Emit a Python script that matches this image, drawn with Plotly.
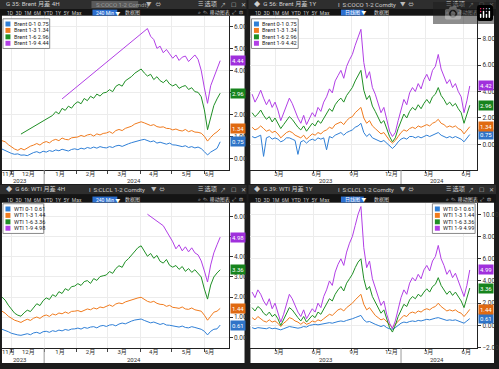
import plotly.graph_objects as go
import pandas as pd

W, H = 499, 369
FONT = "Roboto, Noto Sans CJK SC, sans-serif"

# ---------------- data ----------------
h4_start = "2023-11-22"   # 4H panels, one reading every 3 days
d1_start = "2023-01-02"   # 1Y panels, one reading per week

brent_names = ["Brent 0-1", "Brent 1-3", "Brent 1-6", "Brent 1-9"]
wti_names = ["WTI 0-1", "WTI 1-3", "WTI 1-6", "WTI 1-9"]

brent_4h_01 = [0.42, 0.35, 0.30, 0.22, 0.18, 0.20, 0.14, 0.15, 0.12, 0.20, 0.26, 0.30, 0.24, 0.32,
               0.28, 0.35, 0.31, 0.38, 0.34, 0.41, 0.37, 0.33, 0.40, 0.43, 0.39, 0.46, 0.42, 0.49,
               0.45, 0.51, 0.46, 0.53, 0.49, 0.47, 0.53, 0.49, 0.56, 0.59, 0.54, 0.61, 0.66, 0.71,
               0.76, 0.79, 0.83, 0.86, 0.79, 0.75, 0.79, 0.69, 0.73, 0.67, 0.64, 0.69, 0.61, 0.60,
               0.57, 0.53, 0.57, 0.49, 0.53, 0.47, 0.51, 0.44, 0.30, 0.15, 0.28, 0.38, 0.45, 0.75]
brent_4h_13 = [0.80, 0.75, 0.62, 0.50, 0.42, 0.36, 0.45, 0.38, 0.48, 0.55, 0.60, 0.67, 0.60, 0.71,
               0.76, 0.70, 0.81, 0.86, 0.80, 0.92, 0.86, 0.84, 0.93, 0.96, 0.97, 1.04, 0.99, 1.06,
               1.09, 1.01, 1.11, 1.06, 1.13, 1.15, 1.21, 1.13, 1.26, 1.31, 1.26, 1.36, 1.41, 1.46,
               1.56, 1.61, 1.66, 1.61, 1.54, 1.49, 1.53, 1.44, 1.41, 1.43, 1.36, 1.35, 1.29, 1.33,
               1.27, 1.24, 1.31, 1.21, 1.26, 1.19, 1.18, 1.14, 1.00, 0.78, 0.95, 1.10, 1.20, 1.34]
brent_4h_16 = [None, None, None, None, None, None, 1.10, None, None, None, None, None, None, None,
               1.75, 1.85, 1.95, 2.12, 2.02, 2.27, 2.18, 2.37, 2.28, 2.47, 2.57, 2.48, 2.72, 2.62,
               2.82, 2.73, 2.92, 2.83, 2.97, 3.00, 3.12, 3.03, 3.27, 3.36, 3.28, 3.52, 3.61, 3.72,
               3.87, 3.96, 4.06, 3.88, 3.74, 3.82, 3.58, 3.71, 3.53, 3.44, 3.57, 3.38, 3.29, 3.37,
               3.18, 3.26, 3.31, 3.13, 3.21, 3.03, 3.00, 2.80, 2.20, 1.30, 1.80, 2.40, 2.70, 2.96]
brent_4h_19 = [None, None, None, None, None, None, None, None, None, None, None, None, None, None,
               None, None, None, None, None, 2.70, None, None, None, None, None, None, None, None,
               None, None, None, None, None, None, None, None, None, None, None, None, None, None,
               None, None, None, None, 5.90, 5.55, 5.40, 5.00, 5.10, 4.80, 4.95, 4.75, 4.55, 4.70,
               4.45, 4.60, 4.65, 4.40, 4.55, 4.70, 4.50, 4.00, 3.20, 2.50, 3.30, 3.70, 4.00, 4.44]

brent_1y_01 = [0.6, 0.5, 0.6, 0.7, -0.9, 0.5, 0.6, 0.4, 0.5, 0.4, 0.2, 0.3, 0.5, 0.5, 0.4, 0.3,
               -0.75, 0.2, 0.3, 0.1, 0.3, 0.4, 0.3, 0.5, 0.4, 0.5, -0.4, 0.6, 0.5, 0.7, 0.8, 0.9,
               0.7, 0.9, 1.0, 1.1, 1.3, 1.4, 1.6, 0.9, 0.6, 0.8, 0.5, 0.4, 0.3, 0.2, 0.3, 0.1,
               -0.1, -0.3, -0.1, 0.2, 0.4, 0.5, 0.4, 0.6, 0.6, 0.5, 0.6, 0.5, 0.6, 0.7, 0.6, 0.7,
               0.8, 0.9, 0.7, 0.6, 0.5, 0.6, 0.5, 0.6, 0.5, 0.4, 0.2, 0.5, 0.75]
brent_1y_13 = [1.3, 1.1, 1.2, 1.4, 1.2, 1.0, 1.1, 0.9, 1.0, 0.8, 0.5, 0.7, 0.9, 1.0, 0.9, 0.7,
               0.6, 0.5, 0.7, 0.4, 0.6, 0.8, 0.7, 0.9, 0.8, 1.0, 1.1, 1.3, 1.2, 1.5, 1.6, 1.7,
               1.5, 1.8, 2.0, 2.1, 2.4, 2.6, 2.8, 2.0, 1.6, 1.8, 1.4, 1.2, 1.0, 0.8, 0.9, 0.6,
               0.3, 0.1, 0.3, 0.6, 0.9, 1.1, 1.0, 1.2, 1.3, 1.2, 1.4, 1.3, 1.4, 1.5, 1.4, 1.6,
               1.7, 1.9, 1.6, 1.5, 1.3, 1.4, 1.3, 1.4, 1.2, 1.1, 0.8, 1.1, 1.34]
brent_1y_16 = [2.4, 2.1, 2.3, 2.6, 2.2, 1.9, 2.1, 1.7, 2.0, 1.6, 1.2, 1.5, 1.8, 2.1, 1.9, 1.6,
               1.3, 1.1, 1.4, 1.0, 1.3, 1.6, 1.4, 1.8, 1.6, 2.0, 2.3, 2.7, 2.5, 3.0, 3.3, 3.5,
               3.2, 3.7, 4.0, 4.3, 4.8, 5.2, 5.6, 4.1, 3.4, 3.7, 2.9, 2.5, 2.0, 1.6, 1.8, 1.2,
               0.6, 0.2, 0.5, 1.2, 1.8, 2.3, 2.0, 2.5, 2.8, 2.6, 3.0, 2.7, 3.1, 3.4, 3.1, 3.6,
               3.8, 4.3, 3.7, 3.4, 3.0, 3.2, 2.9, 3.1, 2.7, 2.4, 1.6, 2.3, 2.96]
brent_1y_19 = [3.8, 3.2, 3.6, 4.1, 3.5, 3.0, 3.4, 2.8, 3.2, 2.6, 1.8, 2.4, 2.9, 3.5, 3.1, 2.5,
               2.0, 1.6, 2.2, 1.5, 1.9, 2.4, 2.1, 2.8, 2.5, 3.2, 3.6, 4.2, 3.9, 4.8, 5.2, 5.6,
               5.0, 5.9, 6.4, 6.8, 7.5, 8.1, 8.7, 6.2, 5.0, 5.5, 4.3, 3.8, 3.0, 2.4, 2.8, 1.9,
               1.0, 0.6, 0.9, 1.8, 2.6, 3.4, 3.0, 3.9, 4.3, 4.0, 4.6, 4.2, 4.9, 5.3, 4.8, 5.6,
               5.9, 6.8, 5.7, 5.2, 4.6, 4.9, 4.3, 4.6, 4.0, 3.6, 2.4, 3.3, 4.42]

wti_4h_01 = [0.40, 0.35, 0.28, 0.20, 0.15, 0.12, 0.10, 0.14, 0.18, 0.13, 0.22, 0.25, 0.19, 0.28,
             0.30, 0.25, 0.33, 0.29, 0.36, 0.32, 0.39, 0.35, 0.41, 0.42, 0.46, 0.41, 0.49, 0.45,
             0.51, 0.53, 0.47, 0.56, 0.59, 0.54, 0.61, 0.63, 0.57, 0.66, 0.71, 0.67, 0.76, 0.81,
             0.86, 0.89, 0.91, 0.84, 0.77, 0.72, 0.76, 0.69, 0.64, 0.69, 0.61, 0.60, 0.57, 0.54,
             0.51, 0.56, 0.49, 0.47, 0.53, 0.49, 0.45, 0.40, 0.30, 0.12, 0.30, 0.40, 0.42, 0.61]
wti_4h_13 = [1.30, 1.20, 1.05, 0.95, 0.85, 0.80, 0.74, 0.83, 0.90, 0.84, 0.95, 1.01, 0.94, 1.06,
             1.11, 1.04, 1.16, 1.11, 1.21, 1.17, 1.26, 1.19, 1.29, 1.30, 1.33, 1.27, 1.36, 1.41,
             1.37, 1.46, 1.41, 1.51, 1.47, 1.56, 1.61, 1.54, 1.66, 1.71, 1.67, 1.76, 1.81, 1.86,
             1.93, 1.96, 1.99, 1.89, 1.79, 1.74, 1.79, 1.69, 1.64, 1.63, 1.54, 1.59, 1.49, 1.47,
             1.44, 1.51, 1.41, 1.39, 1.46, 1.37, 1.35, 1.30, 1.10, 0.85, 1.05, 1.25, 1.30, 1.44]
wti_4h_16 = [2.00, 1.85, 1.60, 1.40, 1.20, 1.10, 1.05, 1.22, 1.35, 1.28, 1.50, 1.67, 1.58, 1.82,
             1.96, 1.88, 2.12, 2.03, 2.27, 2.18, 2.42, 2.33, 2.52, 2.55, 2.67, 2.58, 2.77, 2.82,
             2.68, 2.92, 2.83, 3.02, 3.06, 3.10, 3.27, 3.18, 3.42, 3.56, 3.48, 3.77, 3.91, 4.11,
             4.31, 4.46, 4.55, 4.28, 4.03, 4.17, 3.93, 4.07, 3.78, 3.69, 3.87, 3.58, 3.49, 3.57,
             3.38, 3.52, 3.28, 3.42, 3.23, 3.36, 3.20, 3.00, 2.40, 1.90, 2.60, 3.00, 3.20, 3.36]
wti_4h_19 = [None, None, None, None, None, None, None, None, None, None, None, None, None, None,
             None, None, None, None, None, None, None, None, None, None, None, None, None, None,
             None, None, None, None, None, None, None, None, None, None, None, None, None, None,
             None, None, None, None, 6.12, None, None, None, None, 5.55, None, None, 4.75, 4.40,
             4.60, 4.30, 4.50, 4.25, 4.45, 4.20, 4.10, 3.80, 3.30, 2.75, 3.60, 4.20, 4.60, 4.98]

wti_1y_01 = [-0.2, -0.3, -0.2, -0.25, -0.3, -0.3, -0.2, -0.3, -0.25, -0.3, -0.4, -0.3, -0.2, -0.1,
             -0.15, -0.2, -0.25, -0.2, -0.1, -0.15, 0.0, 0.05, 0.1, 0.05, 0.1, 0.15, 0.2, 0.25,
             0.2, 0.3, 0.35, 0.4, 0.35, 0.45, 0.5, 0.6, 0.7, 0.8, 0.9, 0.5, 0.3, 0.35, 0.2, 0.1,
             0.0, -0.1, 0.0, -0.2, -0.3, -0.35, -0.2, 0.0, 0.2, 0.3, 0.25, 0.35, 0.4, 0.35, 0.45,
             0.4, 0.5, 0.55, 0.5, 0.6, 0.65, 0.7, 0.6, 0.5, 0.45, 0.5, 0.45, 0.5, 0.4, 0.35, 0.2,
             0.4, 0.61]
wti_1y_13 = [0.7, 0.5, 0.8, 0.6, 0.4, 0.3, 0.5, 0.3, 0.4, 0.2, -0.1, 0.2, 0.4, 0.7, 0.6, 0.4,
             0.3, 0.1, 0.3, 0.1, 0.2, 0.4, 0.3, 0.5, 0.4, 0.6, 0.8, 1.0, 0.9, 1.2, 1.4, 1.5,
             1.3, 1.6, 1.8, 2.0, 2.3, 2.6, 2.8, 1.9, 1.4, 1.6, 1.2, 0.9, 0.7, 0.5, 0.6, 0.3,
             0.0, -0.2, 0.1, 0.4, 0.7, 0.9, 0.8, 1.1, 1.2, 1.1, 1.3, 1.2, 1.4, 1.5, 1.4, 1.6,
             1.7, 2.0, 1.7, 1.5, 1.3, 1.4, 1.3, 1.4, 1.2, 1.1, 0.8, 1.1, 1.44]
wti_1y_16 = [1.6, 1.3, 1.7, 1.5, 1.1, 0.9, 1.2, 0.8, 1.0, 0.6, 0.0, 0.5, 1.0, 1.6, 1.4, 1.0,
             0.7, 0.4, 0.8, 0.3, 0.6, 0.9, 0.7, 1.2, 1.0, 1.5, 1.9, 2.4, 2.2, 2.8, 3.2, 3.5,
             3.1, 3.8, 4.2, 4.6, 5.2, 5.7, 6.0, 4.2, 3.2, 3.5, 2.6, 2.1, 1.6, 1.1, 1.4, 0.6,
             -0.2, -0.6, 0.0, 0.8, 1.4, 1.9, 1.7, 2.3, 2.6, 2.4, 2.8, 2.6, 3.0, 3.3, 3.0, 3.5,
             3.7, 4.3, 3.6, 3.2, 2.8, 3.1, 2.7, 3.0, 2.6, 2.2, 1.6, 2.4, 3.36]
wti_1y_19 = [3.0, 2.5, 3.2, 2.8, 2.2, 1.8, 2.4, 1.5, 2.0, 1.2, 0.3, 1.0, 1.8, 2.8, 2.4, 1.8,
             1.2, 0.8, 1.4, 0.6, 1.0, 1.5, 1.2, 2.0, 1.6, 2.6, 3.2, 4.0, 3.6, 4.8, 5.5, 6.0,
             5.4, 6.6, 7.4, 8.0, 9.0, 10.0, 10.7, 7.0, 5.2, 5.8, 4.2, 3.4, 2.5, 1.8, 2.2, 1.0,
             0.2, -0.3, 0.4, 1.5, 2.5, 3.2, 2.8, 3.8, 4.3, 4.0, 4.6, 4.2, 5.0, 5.4, 4.9, 5.8,
             6.2, 7.2, 6.0, 5.4, 4.6, 5.0, 4.3, 4.7, 4.0, 3.4, 2.6, 3.6, 4.99]

# tick labels
h4_month_labels = ["11月", "12月", "1月", "2月", "3月", "4月", "5月", "6月"]
h4_month_pos = ["2023-11-28", "2023-12-17", "2024-01-16", "2024-02-14", "2024-03-15",
                "2024-04-14", "2024-05-15", "2024-06-06"]
d1_month_labels = ["3月", "6月", "9月", "12月", "3月", "6月"]
d1_month_pos = ["2023-03-01", "2023-06-01", "2023-09-01", "2023-12-01", "2024-03-01", "2024-06-01"]
year_labels = ["2023", "2024"]

colors = ["#2f7fd6", "#f07b1e", "#1f8f25", "#b23fe6"]
tag_colors = ["#2f74c8", "#e06a12", "#17841d", "#a030dc"]

# ---------------- helpers ----------------
def X(px):
    return px / W


def Y(py):
    return 1 - py / H


shapes, annotations = [], []


def rect(x0, y0, x1, y1, color, layer="below", line=None):
    shapes.append(dict(type="rect", xref="paper", yref="paper", x0=X(x0), x1=X(x1),
                       y0=Y(y1), y1=Y(y0), fillcolor=color,
                       line=line if line else dict(width=0), layer=layer))


def txt(x, y, s, size=6, color="#cfcfcf", anchor="left"):
    annotations.append(dict(xref="paper", yref="paper", x=X(x), y=Y(y), text=s, showarrow=False,
                            xanchor=anchor, yanchor="middle",
                            font=dict(size=size, color=color, family=FONT)))


fig = go.Figure()

# background blocks
for (x0, x1) in [(0, 248), (250, 499)]:
    for (t, tb, bt, wb) in [(0, 9, 16, 186), (187, 196.5, 205, 367)]:
        rect(x0, t, x1, tb, "#2e2e2e")
        rect(x0, tb, x1, bt, "#141414")
        rect(x0 + 2, bt, x1 - 2, wb, "#ffffff")

panels = [
    dict(n="", start=h4_start, freq="3D", series=[brent_4h_01, brent_4h_13, brent_4h_16, brent_4h_19],
         names=brent_names, box=(2, 16, 230, 172), yr=[-0.54, 6.48], dt=1, kind="4h",
         xr=["2023-11-22", "2024-06-24"], title="G 35: Brent 月差 4H", tk="S:COCO 1-2 Comdty",
         leg=(3, 19, 50, 49), yrow=182.5, ysep=(172, 186)),
    dict(n="2", start=d1_start, freq="7D", series=[brent_1y_01, brent_1y_13, brent_1y_16, brent_1y_19],
         names=brent_names, box=(252, 16, 480, 172), yr=[-1.94, 9.72], dt=2, kind="1y",
         xr=["2022-12-29", "2024-07-05"], title="◆  G 56: Brent 月差 1Y", tk="I  S:COCO 1-2 Comdty",
         leg=(253, 19, 300, 49), yrow=182.5, ysep=(172, 186)),
    dict(n="3", start=h4_start, freq="3D", series=[wti_4h_01, wti_4h_13, wti_4h_16, wti_4h_19],
         names=wti_names, box=(2, 205, 230, 352), yr=[-0.54, 6.69], dt=1, kind="4h",
         xr=["2023-11-22", "2024-06-24"], title="◆  G 66: WTI 月差 4H", tk="I  S:CLCL 1-2 Comdty",
         leg=(3, 206, 44, 236), yrow=363.2, ysep=(352, 367)),
    dict(n="4", start=d1_start, freq="7D", series=[wti_1y_01, wti_1y_13, wti_1y_16, wti_1y_19],
         names=wti_names, box=(252, 205, 480, 352), yr=[-2.05, 11.04], dt=2, kind="1y",
         xr=["2022-12-29", "2024-07-05"], title="◆  G 39: WTI 月差 1Y", tk="I  S:CLCL 1-2 Comdty",
         leg=(435, 206, 478, 236), yrow=363.2, ysep=(352, 367)),
]

for p in panels:
    n = p["n"]
    xid, yid = "x" + n, "y" + n
    l, t, r, b = p["box"]
    for vals, name, c in zip(p["series"], p["names"], colors):
        d = pd.date_range(p["start"], periods=len(vals), freq=p["freq"])
        fig.add_trace(go.Scatter(x=d, y=vals, mode="lines", line=dict(color=c, width=1),
                                 connectgaps=True, showlegend=False, hoverinfo="skip",
                                 xaxis=xid, yaxis=yid))
    xa = dict(domain=[X(l), X(r)], type="date", range=p["xr"], anchor=yid,
              showline=True, linecolor="#222", linewidth=1, ticklabeloverflow="allow",
              tickfont=dict(size=6, color="#333", family=FONT), fixedrange=True)
    if p["kind"] == "4h":
        xa.update(tickvals=h4_month_pos, ticktext=h4_month_labels, ticks="", showgrid=False,
                  ticklabelstandoff=-2,
                  minor=dict(dtick="M1", tick0="2023-11-01", ticks="outside", ticklen=3,
                             tickcolor="#444", showgrid=True, gridcolor="#ececec"))
        year_pos = ["2023-12-09", "2024-03-26"]
    else:
        xa.update(tickvals=d1_month_pos, ticktext=d1_month_labels, ticks="outside", ticklen=2,
                  tickcolor="#444", showgrid=True, gridcolor="#ececec", ticklabelshift=3,
                  ticklabelstandoff=-4)
        year_pos = ["2023-07-01", "2024-03-28"]
    ya = dict(domain=[Y(b), Y(t)], range=p["yr"], anchor=xid, side="right", showline=True,
              linecolor="#222", linewidth=1, ticks="outside", ticklen=3, tickcolor="#333",
              tickformat=".2f", dtick=p["dt"], tick0=0, showgrid=True, gridcolor="#ececec",
              zeroline=False, tickfont=dict(size=6.5, color="#333", family=FONT), fixedrange=True)
    fig.update_layout(**{"xaxis" + n: xa, "yaxis" + n: ya})

    # year row
    for yl, yp in zip(year_labels, year_pos):
        annotations.append(dict(xref=xid, yref="paper", x=yp, y=Y(p["yrow"]), text=yl,
                                showarrow=False, yanchor="middle",
                                font=dict(size=6, color="#333", family=FONT)))
    shapes.append(dict(type="line", xref=xid, yref="paper", x0="2024-01-01", x1="2024-01-01",
                       y0=Y(p["ysep"][0]), y1=Y(p["ysep"][1]), line=dict(color="#999", width=1)))

    # value tags on right axis
    for vals, tc in zip(p["series"], tag_colors):
        annotations.append(dict(xref=xid + " domain", yref=yid, x=1, y=vals[-1],
                                text=f"{vals[-1]:.2f}", showarrow=False, xanchor="left",
                                yanchor="middle", xshift=1, bgcolor=tc, borderpad=1,
                                font=dict(size=6, color="white", family=FONT)))

    # legend box
    lx0, ly0, lx1, ly1 = p["leg"]
    rect(lx0, ly0, lx1, ly1, "#ffffff", layer="above", line=dict(color="#8a8a8a", width=1))
    step = (ly1 - ly0 - 4) / 4
    for k, (vals, name, c) in enumerate(zip(p["series"], p["names"], colors)):
        cy = ly0 + 2 + step * (k + 0.5)
        rect(lx0 + 2.5, cy - 2.5, lx0 + 7.5, cy + 2.5, c, layer="above")
        txt(lx0 + 9, cy, f"{name} {vals[-1]:.2f}", size=5.6, color="#222")

    # title bar
    px0 = 0 if l < 250 else 250
    ty = t - 11.5 if t < 100 else t - 13.5
    tby = t - 3.3
    txt(px0 + 4, ty, p["title"], size=6.2)
    if n == "":
        rect(px0 + 92, ty - 3.5, px0 + 139, ty + 3.5, "#5a5a5a")
        txt(px0 + 95, ty, "S:COCO 1-2 Comdty", size=6, color="#9a9a9a")
        txt(px0 + 145, ty, "▼   ⇔", size=5.5, color="#bbbbbb")
    else:
        txt(px0 + 88, ty, p["tk"], size=6)
        txt(px0 + 150, ty, "▼  ⇔", size=5.5, color="#bbbbbb")
    txt(px0 + 197, ty, "☰ 选项", size=6.2)
    txt(px0 + 219, ty, "↗", size=6, color="#bbbbbb")
    txt(px0 + 230, ty, "☐", size=6, color="#bbbbbb")
    txt(px0 + 240, ty, "✕", size=6, color="#bbbbbb")
    # toolbar
    txt(px0 + 5, tby, "1D  3D  1M  6M  YTD  1Y  5Y  Max", size=5, color="#c8c8c8")
    rect(px0 + 93, tby - 3, px0 + (118 if p["kind"] == "4h" else 116), tby + 3, "#2c6fd0")
    txt(px0 + 95, tby, "240 Min ▼" if p["kind"] == "4h" else "日线图 ▼", size=5, color="#ffffff")
    txt(px0 + 124, tby, "数据图", size=5, color="#d0d0d0")
    txt(px0 + 197, tby, "⌕  ✎ 移动图表  ⤢  ⚙", size=5, color="#d0d0d0")

fig.update_layout(width=W, height=H, margin=dict(l=0, r=0, t=0, b=0),
                  paper_bgcolor="#1c1c1c", plot_bgcolor="#ffffff", showlegend=False,
                  shapes=shapes, annotations=annotations, font=dict(family=FONT))

fig.write_html("out.html",
               post_script="document.body.style.margin='0';document.body.style.overflow='hidden';")
